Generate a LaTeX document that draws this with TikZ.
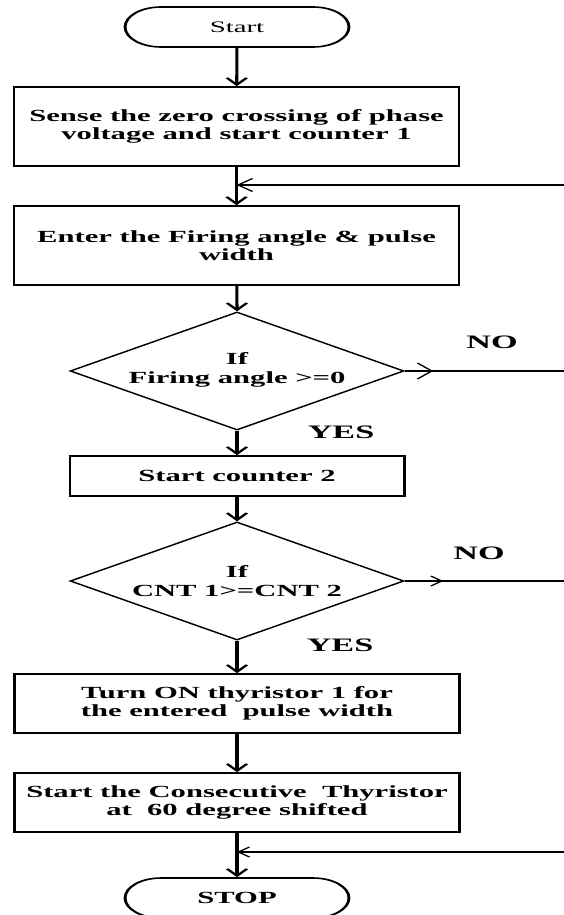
\documentclass[tikz,border=0pt]{standalone}
\usepackage{fontspec}
\setmainfont{Liberation Serif}
\usetikzlibrary{arrows.meta,shapes.geometric}

\tikzset{
  stretched/.style={transform canvas={xscale=1.8}, x=0.5556pt, y=-1pt},
  flowbox/.style={draw, line width=1.6pt, minimum width=247.2pt, inner sep=0pt,
    align=center, font=\fontsize{17}{18.5}\selectfont\bfseries},
  terminal/.style={draw, line width=1.6pt, rounded corners=20pt,
    minimum width=124.4pt, minimum height=40pt, inner sep=0pt},
  decision/.style={draw, diamond, line width=1.3pt, minimum width=185.6pt,
    minimum height=118pt, inner sep=0pt},
  dtext/.style={align=center, font=\fontsize{17}{18.5}\selectfont\bfseries},
  flow/.style={line width=1.7pt, -{Straight Barb[length=7pt,width=11pt]}},
  loopline/.style={line width=1.1pt, -{Straight Barb[length=8pt,width=13pt]}},
  thinline/.style={line width=1.1pt},
  answer/.style={font=\fontsize{19}{20}\selectfont\bfseries},
}

\begin{document}
\begin{tikzpicture}
\useasboundingbox[fill=white] (0,0) rectangle (564pt,-915pt);
\begin{scope}[stretched]
  % terminals
  \node[terminal, font=\fontsize{16}{18}\selectfont] (start) at (237,27) {Start};
  \node[terminal, font=\fontsize{17}{18}\selectfont\bfseries] (stop) at (237,898) {STOP};

  % process boxes
  \node[flowbox, minimum height=79pt] (sense) at (236.5,126.5)
    {Sense the zero crossing of phase\\voltage and start counter 1};
  \node[flowbox, minimum height=79pt] (enter) at (236.5,245.5)
    {Enter the Firing angle \& pulse\\width};
  \node[flowbox, minimum width=185.6pt, minimum height=40pt] (cnt2) at (237,476)
    {Start counter 2};
  \node[flowbox, minimum height=59pt] (turnon) at (237,703.5)
    {Turn ON thyristor 1 for\\the entered\ \ pulse width};
  \node[flowbox, minimum height=59pt] (consec) at (237,802.5)
    {Start the Consecutive\ \ Thyristor\\at\ \ 60 degree shifted};

  % decisions
  \node[decision] (d1) at (237,371) {};
  \node[dtext] at (237,370) {If\\Firing angle >=0};
  \node[decision] (d2) at (237,581) {};
  \node[dtext] at (237,581) {If\\CNT 1>=CNT 2};

  % answer labels
  \node[answer] at (492,342) {NO};
  \node[answer] at (341,432) {YES};
  \node[answer] at (479,553) {NO};
  \node[answer] at (340,645) {YES};

  % main flow
  \draw[flow] (start) -- (sense);
  \draw[flow] (sense) -- (enter);
  \draw[flow] (enter) -- (d1.north);
  \draw[flow] (d1.south) -- (cnt2);
  \draw[flow] (cnt2) -- (d2.north);
  \draw[flow] (d2.south) -- (turnon);
  \draw[flow] (turnon) -- (consec);
  \draw[flow] (consec) -- (stop);

  % NO branches leaving to the right
  \coordinate (no1) at (564,371);
  \coordinate (no2) at (564,581);
  \draw[thinline] (d1.east) -- (no1);
  \draw[thinline, -{Straight Barb[length=8pt,width=16pt]}] (d1.east) -- ++(28,0);
  \draw[thinline] (d2.east) -- (no2);
  \draw[thinline, -{Straight Barb[length=6pt,width=10pt]}] (d2.east) -- ++(38,0);

  % returning lines from the right
  \coordinate (back1) at (564,185);
  \coordinate (back2) at (564,852);
  \draw[loopline] (back1) -- (back1 -| sense.south);
  \draw[loopline, -{Straight Barb[length=6pt,width=10pt]}] (back2) -- (back2 -| consec.south);
\end{scope}
\end{tikzpicture}
\end{document}
